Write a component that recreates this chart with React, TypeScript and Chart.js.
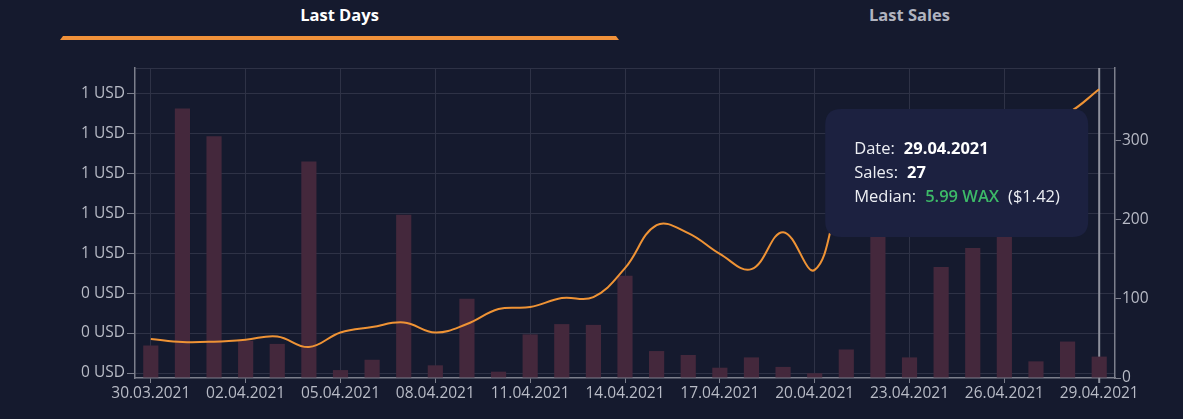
import React, { useEffect, useRef } from 'react';
import { Chart, registerables } from 'chart.js';

Chart.register(...registerables);

const dates = [
  '30.03.2021', '31.03.2021', '01.04.2021', '02.04.2021', '03.04.2021', '04.04.2021',
  '05.04.2021', '06.04.2021', '07.04.2021', '08.04.2021', '09.04.2021', '10.04.2021',
  '11.04.2021', '12.04.2021', '13.04.2021', '14.04.2021', '15.04.2021', '16.04.2021',
  '17.04.2021', '18.04.2021', '19.04.2021', '20.04.2021', '21.04.2021', '22.04.2021',
  '23.04.2021', '24.04.2021', '25.04.2021', '26.04.2021', '27.04.2021', '28.04.2021',
  '29.04.2021',
];

const sales = [
  41, 340, 305, 47, 43, 273, 10, 23, 206, 16, 100, 8, 55, 68, 67, 129, 34, 29, 13, 26,
  14, 6, 36, 215, 26, 140, 164, 250, 21, 46, 27,
];

const medianUsd = [
  0.17, 0.155, 0.157, 0.167, 0.183, 0.13, 0.203, 0.23, 0.253, 0.203, 0.245, 0.32, 0.33,
  0.375, 0.38, 0.525, 0.74, 0.7, 0.596, 0.52, 0.705, 0.516, 0.95, 1.05, 1.1, 1.15, 1.2,
  1.22, 1.25, 1.3, 1.42,
];

const priceTicks = [0, 0.2, 0.4, 0.6, 0.8, 1.0, 1.2, 1.4];
const salesTicks = [0, 100, 200, 300];

const activeIndex = 30;
const activeMedianWax = 5.99;

const FONT = '"Open Sans", "DejaVu Sans", sans-serif';
const BG = '#151a2e';
const GRID = '#2e3246';
const AXIS = '#7c7f8c';
const TICK = '#b8bbc6';
const ORANGE = '#ef9335';
const BAR = '#44283c';

const priceMin = -0.025;
const priceMax = Math.max(...medianUsd) * 1.075;
const salesMax = Math.max(...sales) * 1.15;

const overlayPlugin = {
  id: 'hoverOverlay',
  beforeDatasetsDraw(chart: any) {
    const { ctx, chartArea } = chart;
    const x = chart.scales.x.getPixelForValue(activeIndex);
    ctx.save();
    ctx.strokeStyle = '#8e909c';
    ctx.lineWidth = 2;
    ctx.beginPath();
    ctx.moveTo(x, chartArea.top);
    ctx.lineTo(x, chartArea.bottom + 5);
    ctx.stroke();
    ctx.restore();
  },
  afterDraw(chart: any) {
    const { ctx } = chart;
    const x = chart.scales.x.getPixelForValue(activeIndex);
    const w = 263;
    const h = 128;
    const bx = x - 11 - w;
    const by = 109;
    const r = 16;
    ctx.save();
    ctx.fillStyle = '#1c2140';
    ctx.beginPath();
    ctx.moveTo(bx + r, by);
    ctx.lineTo(bx + w - r, by);
    ctx.quadraticCurveTo(bx + w, by, bx + w, by + r);
    ctx.lineTo(bx + w, by + h - r);
    ctx.quadraticCurveTo(bx + w, by + h, bx + w - r, by + h);
    ctx.lineTo(bx + r, by + h);
    ctx.quadraticCurveTo(bx, by + h, bx, by + h - r);
    ctx.lineTo(bx, by + r);
    ctx.quadraticCurveTo(bx, by, bx + r, by);
    ctx.closePath();
    ctx.fill();

    ctx.textBaseline = 'alphabetic';
    ctx.textAlign = 'left';
    const reg = `16.5px ${FONT}`;
    const semi = `600 16.5px ${FONT}`;
    const bold = `bold 16.5px ${FONT}`;
    const rows = [
      [
        { t: 'Date:', f: reg, c: '#eceef3' },
        { t: dates[activeIndex], f: bold, c: '#ffffff' },
      ],
      [
        { t: 'Sales:', f: reg, c: '#eceef3' },
        { t: String(sales[activeIndex]), f: bold, c: '#ffffff' },
      ],
      [
        { t: 'Median:', f: reg, c: '#eceef3' },
        { t: `${activeMedianWax.toFixed(2)} WAX`, f: semi, c: '#3dba68' },
        { t: `($${medianUsd[activeIndex].toFixed(2)})`, f: reg, c: '#eceef3' },
      ],
    ];
    const baselines = [by + 45, by + 68.5, by + 93];
    rows.forEach((row, i) => {
      let cx = bx + 29;
      row.forEach((p) => {
        ctx.font = p.f;
        ctx.fillStyle = p.c;
        ctx.fillText(p.t, cx, baselines[i]);
        cx += ctx.measureText(p.t).width + 9;
      });
    });
    ctx.restore();
  },
};

function SalesChart() {
  const canvasRef = useRef<HTMLCanvasElement | null>(null);

  useEffect(() => {
    if (!canvasRef.current) return;
    const tickFont = { family: FONT, size: 15.5 };
    const chart = new Chart(canvasRef.current, {
      type: 'bar',
      data: {
        labels: dates,
        datasets: [
          {
            type: 'line',
            label: 'Median',
            data: medianUsd,
            yAxisID: 'yPrice',
            borderColor: ORANGE,
            borderWidth: 2,
            pointRadius: 0,
            tension: 0.4,
            fill: false,
            order: 0,
          } as any,
          {
            type: 'bar',
            label: 'Sales',
            data: sales,
            yAxisID: 'ySales',
            backgroundColor: BAR,
            barPercentage: 0.48,
            categoryPercentage: 1,
            order: 1,
          } as any,
        ],
      },
      options: {
        animation: false,
        responsive: true,
        maintainAspectRatio: false,
        events: [],
        layout: { padding: { top: 68, left: 0, right: 0, bottom: 0 } },
        plugins: {
          legend: { display: false },
          tooltip: { enabled: false },
        },
        scales: {
          x: {
            offset: true,
            grid: {
              offset: false,
              color: (c: any) => (c.index % 3 === 0 ? GRID : 'transparent'),
              tickColor: (c: any) => (c.index % 3 === 0 ? AXIS : 'transparent'),
              tickLength: 5,
            },
            border: { color: AXIS, width: 1.5 },
            ticks: {
              autoSkip: false,
              maxRotation: 0,
              minRotation: 0,
              color: TICK,
              font: tickFont,
              padding: 1,
              callback: (_v: any, i: number) => (i % 3 === 0 ? dates[i] : ''),
            },
            afterFit: (s: any) => {
              s.height = 41;
            },
          },
          yPrice: {
            type: 'linear',
            position: 'left',
            min: priceMin,
            max: priceMax,
            afterBuildTicks: (s: any) => {
              s.ticks = [priceMin, ...priceTicks, priceMax].map((v) => ({ value: v }));
            },
            grid: {
              color: (c: any) => (c.index === 0 ? 'transparent' : GRID),
              tickColor: (c: any) =>
                c.index === 0 || c.index === priceTicks.length + 1 ? 'transparent' : AXIS,
              tickLength: 8,
            },
            border: { color: AXIS, width: 1.5 },
            ticks: {
              color: TICK,
              font: tickFont,
              padding: 2,
              callback: (v: any, i: number) =>
                i === 0 || i === priceTicks.length + 1 ? '' : `${Math.round(Number(v))} USD`,
            },
            afterFit: (s: any) => {
              s.width = 135;
            },
          },
          ySales: {
            type: 'linear',
            position: 'right',
            min: 0,
            max: salesMax,
            afterBuildTicks: (s: any) => {
              s.ticks = salesTicks.map((v) => ({ value: v }));
            },
            grid: {
              drawOnChartArea: false,
              tickColor: AXIS,
              tickLength: 6,
            },
            border: { color: AXIS, width: 1.5 },
            ticks: {
              color: TICK,
              font: tickFont,
              padding: 1,
              callback: (v: any) => String(v),
            },
            afterFit: (s: any) => {
              s.width = 68;
            },
          },
        },
      } as any,
      plugins: [overlayPlugin],
    });
    return () => chart.destroy();
  }, []);

  return <canvas ref={canvasRef} />;
}

export default function App() {
  return (
    <div
      style={{
        position: 'fixed',
        left: 0,
        top: 0,
        width: 1183,
        height: 419,
        background: BG,
        overflow: 'hidden',
        fontFamily: FONT,
      }}
    >
      <div
        style={{
          position: 'absolute',
          left: 60,
          top: 5,
          width: 559,
          textAlign: 'center',
          fontWeight: 700,
          fontSize: 16.5,
          lineHeight: '20px',
          color: '#ffffff',
        }}
      >
        Last Days
      </div>
      <div
        style={{
          position: 'absolute',
          left: 630,
          top: 5,
          width: 559,
          textAlign: 'center',
          fontWeight: 700,
          fontSize: 16.5,
          lineHeight: '20px',
          color: '#b1b4c0',
        }}
      >
        Last Sales
      </div>
      <div
        style={{
          position: 'absolute',
          left: 60,
          top: 36,
          width: 559,
          height: 4,
          background: '#f0913a',
          clipPath: 'polygon(3px 0, calc(100% - 3px) 0, 100% 100%, 0 100%)',
        }}
      />
      <div style={{ position: 'absolute', left: 0, top: 0, width: 1183, height: 419 }}>
        <SalesChart />
      </div>
    </div>
  );
}
